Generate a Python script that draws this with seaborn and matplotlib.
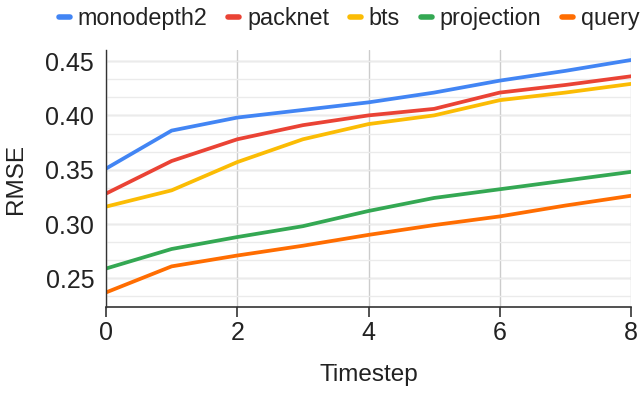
import numpy as np
import pandas as pd
import matplotlib.pyplot as plt
import seaborn as sns

# values
timestep = [0, 1, 2, 3, 4, 5, 6, 7, 8]
monodepth2 = [0.351, 0.386, 0.398, 0.405, 0.412, 0.421, 0.432, 0.441, 0.451]
packnet = [0.328, 0.358, 0.378, 0.391, 0.400, 0.406, 0.421, 0.428, 0.436]
bts = [0.316, 0.331, 0.357, 0.378, 0.392, 0.400, 0.414, 0.421, 0.429]
projection = [0.259, 0.277, 0.288, 0.298, 0.312, 0.324, 0.332, 0.340, 0.348]
query = [0.237, 0.261, 0.271, 0.280, 0.290, 0.299, 0.307, 0.317, 0.326]

series = ["monodepth2", "packnet", "bts", "projection", "query"]
colors = ["#4285F4", "#EA4335", "#FBBC04", "#34A853", "#FF6D01"]

df = pd.DataFrame({"Timestep": timestep, "monodepth2": monodepth2, "packnet": packnet,
                   "bts": bts, "projection": projection, "query": query})
long_df = df.melt(id_vars="Timestep", var_name="model", value_name="RMSE")

sns.set_style("white")
plt.rcParams["font.family"] = ["Liberation Sans", "DejaVu Sans"]

fig = plt.figure(figsize=(6.41, 3.95), dpi=100)
ax = fig.add_axes([106 / 641, 1 - 307 / 395, 525 / 641, 257 / 395])

sns.lineplot(data=long_df, x="Timestep", y="RMSE", hue="model", hue_order=series,
             palette=colors, linewidth=2.7, ax=ax, legend=False)

ax.set_xlim(0, 8)
ax.set_ylim(0.2236, 0.4602)
ax.set_xticks([0, 2, 4, 6, 8])
ax.set_yticks([0.25, 0.30, 0.35, 0.40, 0.45])
ax.set_yticklabels(["0.25", "0.30", "0.35", "0.40", "0.45"])
ax.set_yticks(np.arange(0.2333, 0.46, 0.05 / 3), minor=True)
ax.grid(True, which="minor", axis="y", color="#ebebeb", linewidth=1)
ax.grid(True, which="major", axis="y", color="#cccccc", linewidth=1)
ax.grid(True, which="major", axis="x", color="#cccccc", linewidth=1)
ax.set_axisbelow(True)

for side in ["top", "right"]:
    ax.spines[side].set_visible(False)
ax.spines["left"].set_color("#333333")
ax.spines["bottom"].set_color("#333333")
ax.spines["left"].set_linewidth(1)
ax.spines["bottom"].set_linewidth(1.2)

ax.tick_params(axis="x", which="major", bottom=True, length=7, width=1.2,
               color="#333333", labelsize=18, labelcolor="#222222", pad=3)
ax.tick_params(axis="y", which="both", left=False, labelsize=18, labelcolor="#222222", pad=5)

ax.set_xlabel("Timestep", fontsize=17.5, color="#222222", labelpad=14)
ax.set_ylabel("RMSE", fontsize=17.5, color="#222222", labelpad=13)

handles = [plt.Line2D([], [], color=c, linewidth=4, solid_capstyle="round") for c in colors]
fig.legend(handles, series, loc="upper center", bbox_to_anchor=(0.545, 1.035), ncol=5,
           frameon=False, fontsize=16.8, handlelength=0.45, handletextpad=0.35,
           columnspacing=0.9, labelcolor="#222222")

fig.savefig("out.png", dpi=100)
